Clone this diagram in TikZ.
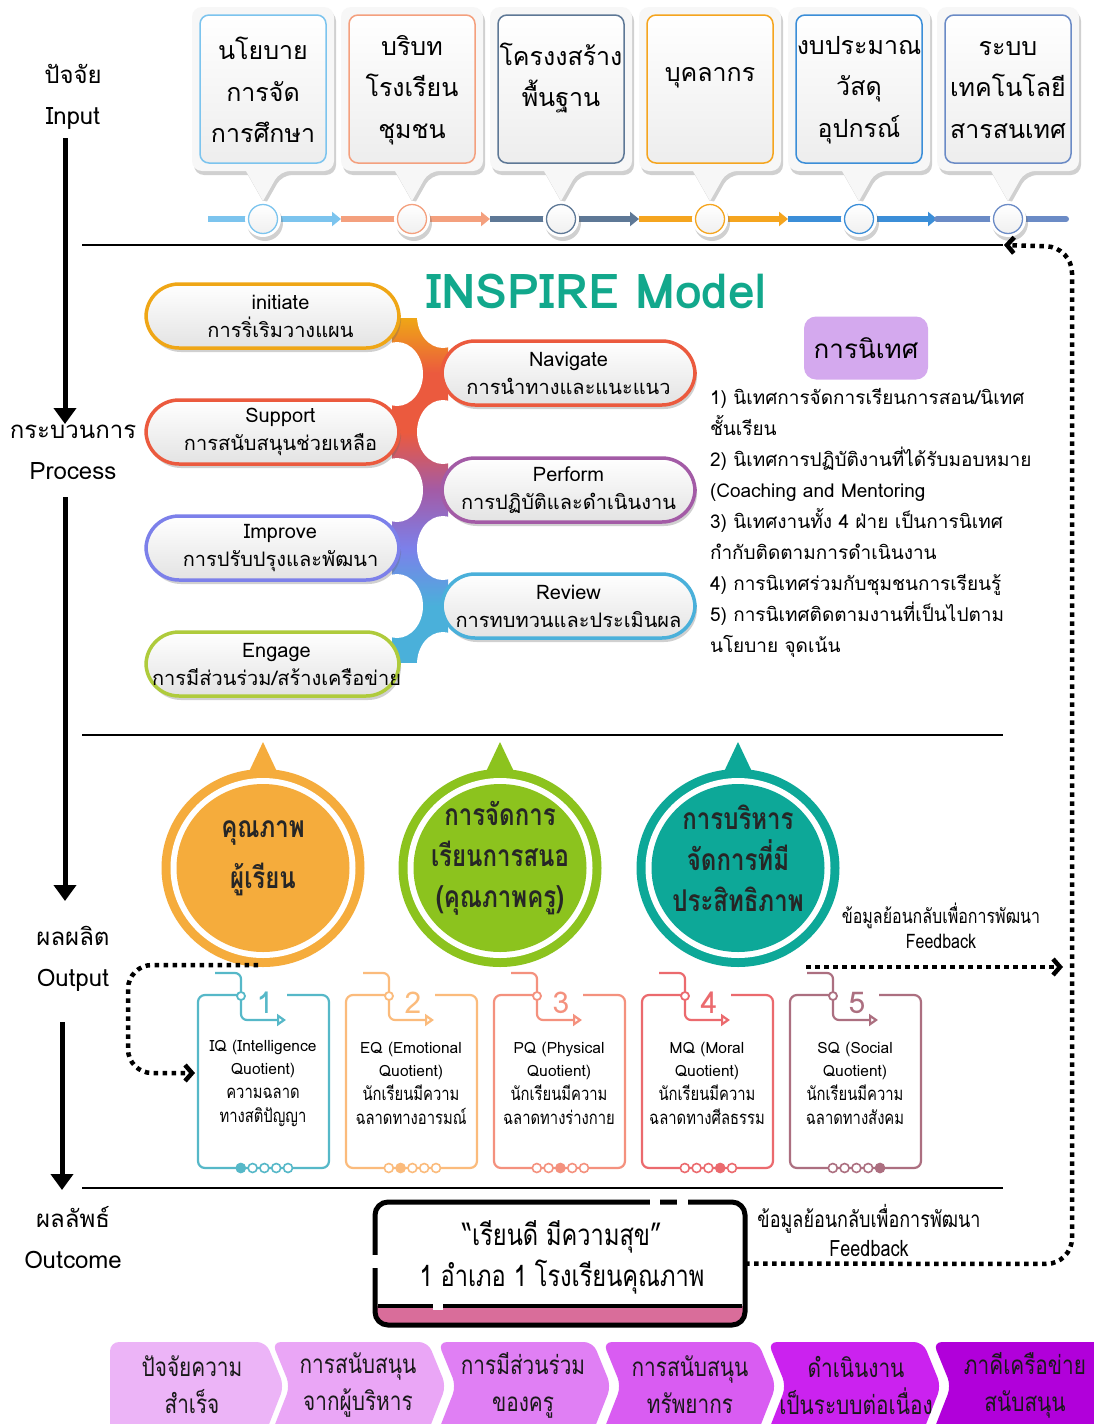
\documentclass[tikz,border=0pt]{standalone}
\usepackage{fontspec}
\setmainfont[Script=Thai]{Loma}
\newfontfamily\thc[Script=Thai,FakeStretch=0.8]{Loma}
\usetikzlibrary{shapes.geometric,shadows,arrows.meta,calc,backgrounds}
\definecolor{cb1}{HTML}{7CC4EE}
\definecolor{cb2}{HTML}{F4A07E}
\definecolor{cb3}{HTML}{5E7896}
\definecolor{cb4}{HTML}{F5A51F}
\definecolor{cb5}{HTML}{3B8ED8}
\definecolor{cb6}{HTML}{6B8BC6}
\definecolor{pOr}{HTML}{EFA616}
\definecolor{pRed}{HTML}{EB5A3E}
\definecolor{pPink}{HTML}{D9557A}
\definecolor{pPur}{HTML}{A35BA6}
\definecolor{pVio}{HTML}{7C80EA}
\definecolor{pSky}{HTML}{4AB0DA}
\definecolor{pGrn}{HTML}{AFCB3C}
\definecolor{teal1}{HTML}{12A88C}
\definecolor{lav}{HTML}{D4A9EE}
\definecolor{eOr}{HTML}{F5AC3C}
\definecolor{eGr}{HTML}{8CC31E}
\definecolor{eTe}{HTML}{0DA898}
\definecolor{q1}{HTML}{56B8C8}
\definecolor{q2}{HTML}{FBBB7C}
\definecolor{q3}{HTML}{F4917E}
\definecolor{q4}{HTML}{EB6A6E}
\definecolor{q5}{HTML}{AC6F80}
\definecolor{pinkb}{HTML}{D96D9A}
\definecolor{ch1}{HTML}{ECB4F7}
\definecolor{ch2}{HTML}{EAA6F6}
\definecolor{ch3}{HTML}{E07FF4}
\definecolor{ch4}{HTML}{D95CF2}
\definecolor{ch5}{HTML}{CB22EF}
\definecolor{ch6}{HTML}{B100DA}
\tikzset{
  shd/.style={drop shadow={shadow xshift=2pt,shadow yshift=-4pt,opacity=.3,fill=black!60}},
  dotl/.style={line width=4.5pt,dash pattern=on 4.5pt off 4.5pt},
  barb/.style={-{Straight Barb[length=7pt,width=16pt]}},
  bigarrow/.style={line width=5pt,-{Triangle[length=16pt,width=22pt]}},
  sepline/.style={line width=2.6pt},
  chevtext/.style={font=\thc\fontsize{26}{37}\selectfont,align=center,text=black!90},
  bubble/.style={ellipse,fill=white,minimum width=52pt,minimum height=64pt},
}
\newcommand\inbox[5]{%
  \path[fill=black!3,shd] [rounded corners=10pt] ({#2-71},7) -- ({#2+71},7) -- ({#2+71},171) -- ({#2+17},171) [sharp corners] -- (#2,201) -- ({#2-17},171) [rounded corners=10pt] -- ({#2-71},171) -- cycle;
  \node[draw=#3,line width=1.5pt,rounded corners=9pt,minimum width=126pt,minimum height=148pt,top color=white,bottom color=black!7] (#1) at (#2,89) {};
  \node[font=\fontsize{25}{41.5}\selectfont,align=center] (#1t) at (#2,#5) {#4};
}
\newcommand\tlcirc[3]{%
  \node[circle,fill=white,minimum size=36pt,shd] at (#2,219) {};
  \node[circle,draw=#3,line width=1.3pt,top color=white,bottom color=black!6,minimum size=29pt] (#1) at (#2,219) {};
}
\newcommand\pill[7]{%
  \node[draw=#4,line width=3.5pt,rounded corners=33pt,minimum width=253pt,minimum height=64pt,top color=white,bottom color=black!11,shd] (#1) at (#2,#3) {};
  \node[align=center,font=\fontsize{20}{28}\selectfont] (#1t) at ({#2+#7},#3) {#5\\#6};
}
\newcommand\egg[6]{%
  \fill[#3] ({#2-17},778) -- (#2,742) -- ({#2+17},778) -- cycle;
  \node[ellipse,fill=#3,minimum width=203pt,minimum height=198pt] (#1o) at (#2,868) {};
  \node[ellipse,fill=white,minimum width=185pt,minimum height=180pt] at (#2,868) {};
  \node[ellipse,fill=#3,minimum width=173pt,minimum height=168pt] (#1) at (#2,868) {};
  \node[font=\thc\bfseries\fontsize{30}{#6}\selectfont,align=center,text=black!85] (#1t) at (#2,#4) {#5};
}
\newcommand\qbox[6]{%
  \draw[#3,line width=2.2pt,rounded corners=7pt] ({#2+43},995) -- (#2,995) -- (#2,1168) -- ({#2+131},1168) -- ({#2+131},995) -- ({#2+89},995);
  \draw[#3,line width=2.2pt,rounded corners=6pt,-{Triangle[open,length=9pt,width=12pt]}] ({#2+17},973) -- ({#2+43},973) -- ({#2+43},1020) -- ({#2+88},1020);
  \node[circle,draw=#3,line width=1.8pt,fill=white,minimum size=8pt] at ({#2+43},996) {};
  \node[text=#3,font=\fontsize{30}{30}\selectfont] (#1n) at ({#2+67},1003) {#4};
  \foreach \k in {1,...,5} {\node[circle,draw=#3,line width=1.6pt,fill=white,minimum size=9pt] at ({#2+31+11.8*\k},1168) {};}
  \node[circle,fill=#3,minimum size=10pt] at ({#2+31+11.8*#5},1168) {};
  \node[align=center,font=\fontsize{15.5}{23.7}\selectfont] (#1) at ({#2+65},1083) {#6};
  \coordinate (#1w) at ({#2-3},1073);
}
\newcommand\qth[1]{{\thc\fontsize{18.5}{23.7}\selectfont #1}}
\newcommand\chev[7]{%
  \fill[#4,rounded corners=9pt] (#2,1342) -- ({#3-18},1342) -- (#3,1386) -- ({#3-18},1432) -- (#2,1432) -- ({#2+18},1386) -- cycle;
  \node[chevtext] (#1) at (#7,1385) {#5\\#6};
}
\begin{document}
\begin{tikzpicture}[x=1pt,y=-1pt,every node/.style={inner sep=0pt,outer sep=0pt}]
\begin{pgfonlayer}{background}
\fill[white] (0,0) rectangle (1094,1424);
\end{pgfonlayer}
\useasboundingbox (0,0) rectangle (1094,1424);

% left stage labels and arrows
\node[font=\fontsize{24}{41}\selectfont,align=center] (lin) at (73,97) {ปัจจัย\\Input};
\node[font=\fontsize{24}{41}\selectfont,align=center] (lpr) at (73,452) {กระบวนการ\\Process};
\node[font=\fontsize{24}{41}\selectfont,align=center] (lou) at (73,959) {ผลผลิต\\Output};
\node[font=\fontsize{24}{41}\selectfont,align=center] (loc) at (73,1238) {ผลลัพธ์\\Outcome};
\coordinate (a1s) at (65,138); \coordinate (a1e) at (65,424);
\coordinate (a2s) at (65,497); \coordinate (a2e) at (65,901);
\coordinate (a3s) at (62,1022); \coordinate (a3e) at (62,1190);
\draw[bigarrow] (a1s) -- (a1e);
\draw[bigarrow] (a2s) -- (a2e);
\draw[bigarrow] (a3s) -- (a3e);

% separator lines
\draw[sepline] (82,245) -- (1003,245);
\draw[sepline] (82,735) -- (1003,735);
\draw[sepline] (82,1188) -- (1003,1188);

% input boxes
\inbox{i1}{263}{cb1}{นโยบาย\\การจัด\\การศึกษา}{90}
\inbox{i2}{412}{cb2}{บริบท\\โรงเรียน\\ชุมชน}{90}
\inbox{i3}{561}{cb3}{โครงงสร้าง\\พื้นฐาน}{78}
\inbox{i4}{710}{cb4}{บุคลากร}{78}
\inbox{i5}{859}{cb5}{งบประมาณ\\วัสดุ\\อุปกรณ์}{90}
\inbox{i6}{1008}{cb6}{ระบบ\\เทคโนโลยี\\สารสนเทศ}{90}

% timeline
\coordinate (ts) at (208,219);
\coordinate (t1) at (341,219);
\coordinate (t2) at (490,219);
\coordinate (t3) at (639,219);
\coordinate (t4) at (788,219);
\coordinate (t5) at (937,219);
\coordinate (te) at (1066,219);
\draw[cb1,line width=6pt,-{Triangle[length=9pt,width=14pt]}] (ts) -- (t1);
\draw[cb2,line width=6pt,-{Triangle[length=9pt,width=14pt]}] (t1) -- (t2);
\draw[cb3,line width=6pt,-{Triangle[length=9pt,width=14pt]}] (t2) -- (t3);
\draw[cb4,line width=6pt,-{Triangle[length=9pt,width=14pt]}] (t3) -- (t4);
\draw[cb5,line width=6pt,-{Triangle[length=9pt,width=14pt]}] (t4) -- (t5);
\draw[cb6,line width=6pt,line cap=round] (t5) -- (te);
\tlcirc{c1}{263}{cb1}
\tlcirc{c2}{412}{cb2}
\tlcirc{c3}{561}{cb3}
\tlcirc{c4}{710}{cb4}
\tlcirc{c5}{859}{cb5}
\tlcirc{c6}{1008}{cb6}

% INSPIRE model: connecting ribbon (drawn first, under the pills)
\shade[top color=pOr,bottom color=pRed] (392,318) rectangle (448,373);
\shade[top color=pRed,bottom color=pRed] (392,373) rectangle (448,432);
\shade[top color=pRed,bottom color=pPur] (392,432) rectangle (448,490);
\shade[top color=pPur,bottom color=pVio] (392,490) rectangle (448,548);
\shade[top color=pVio,bottom color=pSky] (392,548) rectangle (448,606);
\shade[top color=pSky,bottom color=pSky] (392,606) rectangle (448,662);
\node[bubble] (bl1) at (397,374) {};
\node[bubble] (bl2) at (397,490) {};
\node[bubble] (bl3) at (397,606) {};
\node[bubble] (br0) at (443,316) {};
\node[bubble] (br1) at (443,432) {};
\node[bubble] (br2) at (443,548) {};
\node[bubble] (br3) at (443,664) {};

\node[font=\bfseries\fontsize{48}{52}\selectfont,text=teal1] (title) at (596,291) {INSPIRE Model};
\pill{ini}{272.5}{316}{pOr}{initiate}{การริ่เริมวางแผน}{8}
\pill{nav}{568.5}{373}{pRed}{Navigate}{การนำทางและแนะแนว}{0}
\pill{sup}{272.5}{432}{pRed}{Support}{การสนับสนุนช่วยเหลือ}{8}
\pill{per}{568.5}{490}{pPur}{Perform}{การปฏิบัติและดำเนินงาน}{0}
\pill{imp}{272.5}{548}{pVio}{Improve}{การปรับปรุงและพัฒนา}{8}
\pill{rev}{568.5}{606}{pSky}{Review}{การทบทวนและประเมินผล}{0}
\pill{eng}{272.5}{664}{pGrn}{Engage}{การมีส่วนร่วม/สร้างเครือข่าย}{4}

% supervision
\node[fill=lav,rounded corners=12pt,minimum width=124pt,minimum height=63pt,font=\fontsize{26}{30}\selectfont] (nt) at (866,348) {การนิเทศ};
\node[anchor=north west,align=left,font=\fontsize{19}{31.1}\selectfont] (nlist) at (710,388) {1) นิเทศการจัดการเรียนการสอน/นิเทศ\\ชั้นเรียน\\2) นิเทศการปฏิบัติงานที่ได้รับมอบหมาย\\(Coaching and Mentoring\\3) นิเทศงานทั้ง 4 ฝ่าย เป็นการนิเทศ\\กำกับติดตามการดำเนินงาน\\4) การนิเทศร่วมกับชุมชนการเรียนรู้\\5) การนิเทศติดตามงานที่เป็นไปตาม\\นโยบาย จุดเน้น};

% output ellipses
\egg{e1}{263}{eOr}{858}{คุณภาพ\\ผู้เรียน}{51}
\egg{e2}{500}{eGr}{858}{การจัดการ\\เรียนการสนอ\\(คุณภาพครู)}{41}
\egg{e3}{738}{eTe}{858}{การบริหาร\\จัดการที่มี\\ประสิทธิภาพ}{41}
\node[font=\thc\fontsize{20}{25}\selectfont,align=center] (fb1) at (941,926) {ข้อมูลย้อนกลับเพื่อการพัฒนา\\Feedback};

% quotient boxes
\qbox{qa}{198}{q1}{1}{1}{IQ (Intelligence\\Quotient)\\\qth{ความฉลาด}\\\qth{ทางสติปัญญา}}
\qbox{qb}{346}{q2}{2}{2}{EQ (Emotional\\Quotient)\\\qth{นักเรียนมีความ}\\\qth{ฉลาดทางอารมณ์}}
\qbox{qc}{494}{q3}{3}{3}{PQ (Physical\\Quotient)\\\qth{นักเรียนมีความ}\\\qth{ฉลาดทางร่างกาย}}
\qbox{qd}{642}{q4}{4}{4}{MQ (Moral\\Quotient)\\\qth{นักเรียนมีความ}\\\qth{ฉลาดทางศีลธรรม}}
\qbox{qe}{790}{q5}{5}{5}{SQ (Social\\Quotient)\\\qth{นักเรียนมีความ}\\\qth{ฉลาดทางสังคม}}

% dotted loops
\coordinate (lps) at (258,965);
\draw[dotl,barb,rounded corners=24pt] (lps) -- (128,965) -- (128,1073) -- (qaw);
\coordinate (ofs) at (806,967);
\coordinate (ofe) at (1063,967);
\draw[dotl,barb] (ofs) -- (ofe);

% outcome
\begin{scope}
\clip[rounded corners=13pt] (375,1202) rectangle (745,1325);
\fill[pinkb] (375,1306) rectangle (745,1325);
\end{scope}
\draw[line width=4pt] (378,1306) -- (742,1306);
\node[draw,line width=5pt,rounded corners=13pt,minimum width=370pt,minimum height=123pt] (oc) at (560,1263.5) {};
\fill[white] (650,1197) rectangle (660,1207);
\fill[white] (677,1197) rectangle (688,1207);
\fill[white] (370,1255) rectangle (380,1268);
\fill[white] (433,1302) rectangle (443,1310);
\node[font=\thc\fontsize{29.5}{41}\selectfont,align=center] (oct) at (562,1257) {“เรียนดี มีความสุข”\\1 อำเภอ 1 โรงเรียนคุณภาพ};
\node[font=\thc\fontsize{22.5}{29}\selectfont,align=center] (fb2) at (869,1230) {ข้อมูลย้อนกลับเพื่อการพัฒนา\\Feedback};
\coordinate (fbt) at (1004,245);
\draw[dotl,barb,rounded corners=26pt] (oc.east) -- (1072,1264) -- (1072,247) -- (fbt);

% success factors
\fill[ch1,rounded corners=9pt] (110,1342) -- (266,1342) -- (284,1386) -- (266,1432) -- (110,1432) -- cycle;
\node[chevtext] (k1) at (192,1385) {ปัจจัยความ\\สำเร็จ};
\chev{k2}{272}{446}{ch2}{การสนับสนุน}{จากผู้บริหาร}{358}
\chev{k3}{438}{611}{ch3}{การมีส่วนร่วม}{ของครู}{523}
\chev{k4}{603}{776}{ch4}{การสนับสนุน}{ทรัพยากร}{690}
\chev{k5}{768}{941}{ch5}{ดำเนินงาน}{เป็นระบบต่อเนื่อง}{856}
\chev{k6}{933}{1125}{ch6}{ภาคีเครือข่าย}{สนับสนุน}{1025}
\end{tikzpicture}
\end{document}
